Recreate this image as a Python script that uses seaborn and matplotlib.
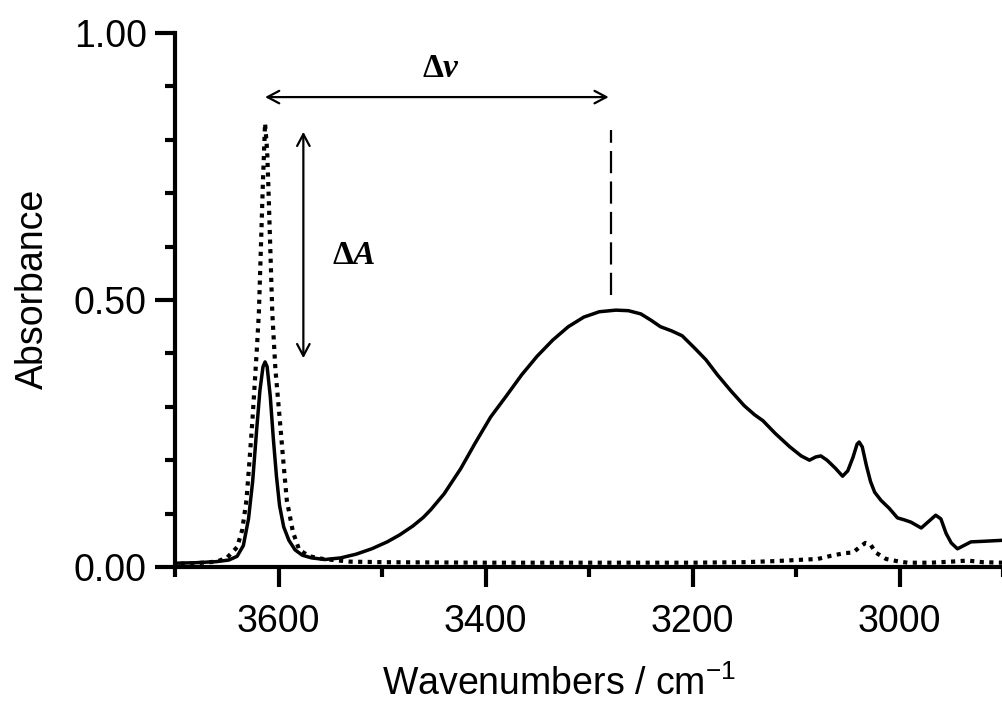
import pandas as pd
import seaborn as sns
import matplotlib.pyplot as plt
from matplotlib.ticker import MultipleLocator

# spectrum (wavenumber / cm-1, absorbance)
wn_solid = [3700, 3680, 3660, 3648, 3640, 3634, 3629, 3625, 3621, 3618, 3615, 3613,
            3611, 3608, 3605, 3602, 3599, 3595, 3590, 3584, 3577, 3568, 3555, 3540,
            3525, 3510, 3495, 3483, 3470, 3460, 3453, 3440, 3424, 3410, 3395, 3380, 3365,
            3350, 3335, 3320, 3305, 3290, 3274, 3262, 3250, 3240, 3231, 3220, 3210,
            3198, 3187, 3176, 3163, 3150, 3140, 3132, 3120, 3106, 3095, 3087, 3081,
            3076, 3070, 3062, 3055, 3050, 3045, 3041, 3039, 3036, 3032, 3028, 3024,
            3018, 3010, 3002, 2995, 2989, 2979, 2972, 2965, 2960, 2955, 2950, 2944,
            2938, 2931, 2920, 2910, 2900]
abs_solid = [0.007, 0.008, 0.010, 0.013, 0.020, 0.040, 0.090, 0.160, 0.260, 0.330, 0.375, 0.384,
             0.375, 0.320, 0.240, 0.170, 0.115, 0.075, 0.050, 0.032, 0.022, 0.017, 0.014, 0.017,
             0.024, 0.034, 0.047, 0.060, 0.077, 0.093, 0.107, 0.137, 0.184, 0.232, 0.281, 0.320, 0.360,
             0.395, 0.425, 0.450, 0.468, 0.478, 0.481, 0.480, 0.474, 0.462, 0.450, 0.442, 0.433,
             0.410, 0.388, 0.360, 0.330, 0.302, 0.285, 0.274, 0.250, 0.225, 0.208, 0.200, 0.206,
             0.208, 0.200, 0.185, 0.170, 0.180, 0.205, 0.230, 0.234, 0.225, 0.190, 0.160, 0.140,
             0.125, 0.110, 0.092, 0.088, 0.084, 0.073, 0.085, 0.097, 0.090, 0.063, 0.045, 0.034,
             0.040, 0.047, 0.048, 0.049, 0.050]

wn_dotted = [3700, 3680, 3660, 3650, 3640, 3635, 3631, 3628, 3625, 3621, 3619, 3617,
             3615, 3613, 3611, 3610, 3608, 3606, 3603, 3599, 3595, 3592, 3586, 3580,
             3570, 3557, 3531, 3500, 3400, 3300, 3200, 3150, 3120, 3100, 3079, 3066,
             3053, 3045, 3038, 3033, 3028, 3023, 3013, 3000, 2992, 2970, 2950, 2934,
             2920, 2900]
abs_dotted = [0.006, 0.007, 0.010, 0.017, 0.037, 0.070, 0.125, 0.200, 0.281, 0.406, 0.475, 0.600,
              0.725, 0.831, 0.780, 0.725, 0.600, 0.475, 0.370, 0.281, 0.190, 0.125, 0.065, 0.032,
              0.020, 0.015, 0.010, 0.009, 0.008, 0.008, 0.008, 0.009, 0.011, 0.013, 0.015, 0.021,
              0.026, 0.027, 0.038, 0.045, 0.042, 0.027, 0.015, 0.010, 0.008, 0.008, 0.010, 0.012,
              0.009, 0.008]

x_ticks = [3600, 3400, 3200, 3000]
y_ticks = [0.0, 0.5, 1.0]
y_tick_labels = ['0.00', '0.50', '1.00']

sns.set_style('ticks')
plt.rcParams['font.family'] = ['Liberation Sans', 'DejaVu Sans']
plt.rcParams['text.color'] = 'black'
plt.rcParams['axes.labelcolor'] = 'black'
plt.rcParams['axes.edgecolor'] = 'black'
plt.rcParams['xtick.color'] = 'black'
plt.rcParams['ytick.color'] = 'black'
plt.rcParams['mathtext.fontset'] = 'custom'
plt.rcParams['mathtext.rm'] = 'Liberation Sans'
plt.rcParams['mathtext.bf'] = 'Liberation Serif:bold'
plt.rcParams['mathtext.bfit'] = 'Liberation Serif:bold:italic'

df_solid = pd.DataFrame({'wn': wn_solid, 'absorb': abs_solid})
df_dotted = pd.DataFrame({'wn': wn_dotted, 'absorb': abs_dotted})

fig, ax = plt.subplots(figsize=(10.03, 7.13), dpi=100)
fig.subplots_adjust(left=0.1745, right=1.0, bottom=0.2048, top=0.9537)

sns.lineplot(data=df_dotted, x='wn', y='absorb', color='black', lw=3.0,
             linestyle=(0, (1.0, 1.3)), estimator=None, ax=ax)
sns.lineplot(data=df_solid, x='wn', y='absorb', color='black', lw=2.5,
             estimator=None, ax=ax)

ax.set_xlim(3700, 2900)
ax.set_ylim(0, 1)

for side in ['top', 'right']:
    ax.spines[side].set_visible(False)
for side in ['left', 'bottom']:
    ax.spines[side].set_linewidth(3)

ax.set_xticks(x_ticks)
ax.xaxis.set_minor_locator(MultipleLocator(100))
ax.set_yticks(y_ticks, y_tick_labels)
ax.yaxis.set_minor_locator(MultipleLocator(0.1))
ax.tick_params(which='major', length=14.4, width=3, direction='out', labelsize=27)
ax.tick_params(which='minor', length=7, width=3, direction='out')
ax.tick_params(axis='x', which='major', pad=12)
ax.tick_params(axis='y', which='major', pad=6)

ax.set_xlabel('Wavenumbers / cm$^{-1}$', fontsize=27)
ax.xaxis.set_label_coords(0.464, -0.185)
ax.set_ylabel('Absorbance', fontsize=27)
ax.yaxis.set_label_coords(-0.15, 0.52)

# annotations: shift and intensity change
arrow = dict(arrowstyle='<->,head_length=0.85,head_width=0.45', lw=1.6,
             color='black', shrinkA=0, shrinkB=0)
ax.annotate('', xy=(3281, 0.88), xytext=(3613, 0.88), arrowprops=arrow)
ax.annotate('', xy=(3576, 0.815), xytext=(3576, 0.391), arrowprops=arrow)
ax.plot([3279, 3279], [0.509, 0.818], color='black', lw=1.6, linestyle=(0, (10, 3.7)))
ax.text(3443, 0.934, r'$\mathbf{\Delta}\mathbfit{v}$', ha='center', va='center', fontsize=24)
ax.text(3527, 0.583, r'$\mathbf{\Delta}\mathbfit{A}$', ha='center', va='center', fontsize=24)

plt.savefig('out.png', dpi=100)
plt.close()
